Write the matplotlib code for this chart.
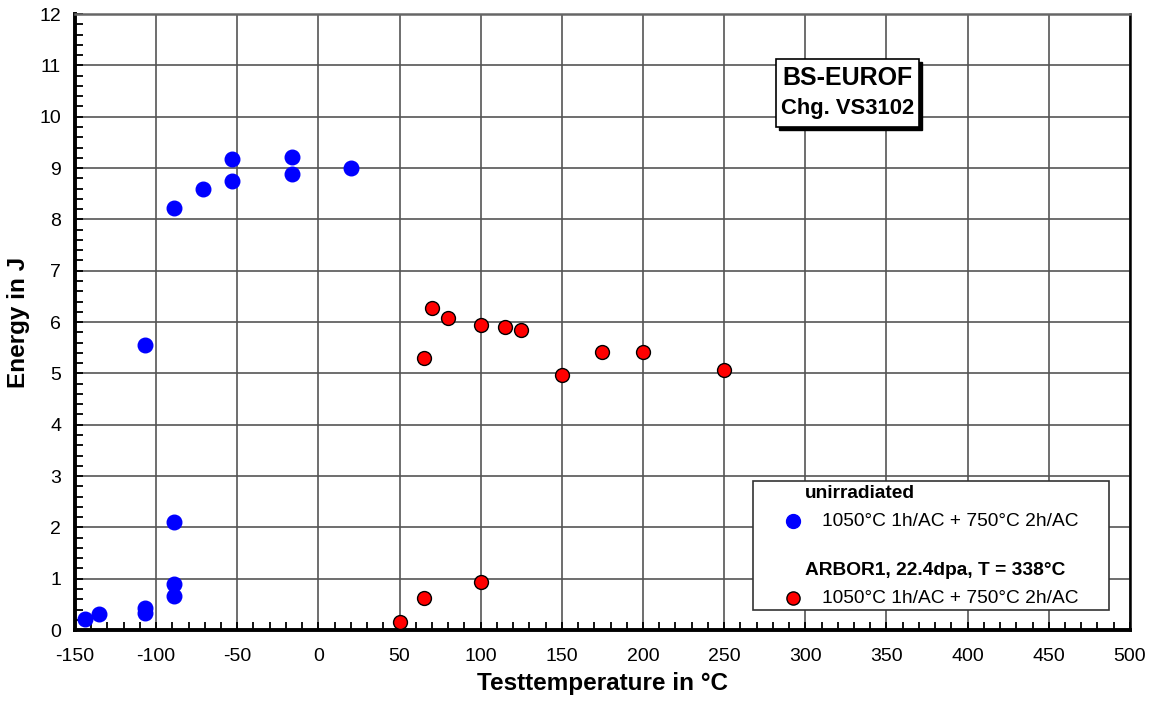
import numpy as np
import matplotlib.pyplot as plt
from matplotlib.patches import Rectangle
from matplotlib.ticker import MultipleLocator

plt.rcParams['font.family'] = ['Liberation Sans', 'DejaVu Sans']
plt.rcParams['axes.unicode_minus'] = False

# unirradiated material
temp_unirr = [-144, -135, -107, -107, -107, -89, -89, -89, -89, -71, -53, -53, -16, -16, 20]
energy_unirr = [0.21, 0.31, 0.43, 0.33, 5.55, 2.10, 0.90, 0.67, 8.22, 8.60, 9.17, 8.75, 9.22, 8.88, 9.00]

# ARBOR1 irradiated material
temp_irr = [50, 65, 100, 65, 70, 80, 100, 115, 125, 150, 175, 200, 250]
energy_irr = [0.15, 0.62, 0.94, 5.30, 6.27, 6.08, 5.95, 5.90, 5.85, 4.97, 5.42, 5.42, 5.07]

header_unirr = 'unirradiated'
header_irr = 'ARBOR1, 22.4dpa, T = 338°C'
treatment = '1050°C 1h/AC + 750°C 2h/AC'

fig = plt.figure(figsize=(11.53, 7.04), dpi=100)
ax = fig.add_axes([0.065, 0.105, 0.915, 0.875])

ax.scatter(temp_unirr, energy_unirr, s=110, color='#0000ff', zorder=3)
ax.scatter(temp_irr, energy_irr, s=100, color='#ff0000', edgecolors='black',
           linewidths=1.0, zorder=3)

ax.set_xlim(-150, 500)
ax.set_ylim(0, 12)
ax.xaxis.set_major_locator(MultipleLocator(50))
ax.xaxis.set_minor_locator(MultipleLocator(10))
ax.yaxis.set_major_locator(MultipleLocator(1))
ax.yaxis.set_minor_locator(MultipleLocator(0.2))
ax.grid(True, which='major', color='#555555', linewidth=1.2)
ax.set_axisbelow(True)

ax.tick_params(which='both', direction='in', length=6, width=1.3, labelsize=14)
ax.tick_params(axis='x', pad=13)
ax.tick_params(axis='y', pad=10)

for side in ['left', 'bottom']:
    ax.spines[side].set_linewidth(2.8)
ax.spines['right'].set_linewidth(1.8)
ax.spines['top'].set_linewidth(1.8)
ax.spines['top'].set_color('#666666')

ax.set_xlabel('Testtemperature in °C', fontsize=17.5, fontweight='bold', labelpad=5)
ax.set_ylabel('Energy in J', fontsize=17.5, fontweight='bold', labelpad=7)

# title box with drop shadow
ax.add_patch(Rectangle((0.6675, 0.8116), 0.1355, 0.110, transform=ax.transAxes,
                       facecolor='black', edgecolor='black', zorder=4))
ax.add_patch(Rectangle((0.6645, 0.8166), 0.1355, 0.110, transform=ax.transAxes,
                       facecolor='white', edgecolor='black', linewidth=1.2, zorder=5))
ax.text(0.732, 0.896, 'BS-EUROF', transform=ax.transAxes, ha='center', va='center',
        fontsize=18, fontweight='bold', zorder=6)
ax.text(0.732, 0.846, 'Chg. VS3102', transform=ax.transAxes, ha='center', va='center',
        fontsize=15.8, fontweight='bold', zorder=6)

# legend box
ax.add_patch(Rectangle((0.643, 0.032), 0.337, 0.210, transform=ax.transAxes,
                       facecolor='white', edgecolor='#333333', linewidth=1.2, zorder=5))
ax.text(0.692, 0.221, header_unirr, transform=ax.transAxes, va='center',
        fontsize=13.8, fontweight='bold', zorder=6)
ax.plot([0.681], [0.177], 'o', transform=ax.transAxes, markersize=10,
        color='#0000ff', clip_on=False, zorder=6)
ax.text(0.708, 0.177, treatment, transform=ax.transAxes, va='center', fontsize=13.8, zorder=6)
ax.text(0.692, 0.096, header_irr, transform=ax.transAxes, va='center',
        fontsize=13.8, fontweight='bold', zorder=6)
ax.plot([0.681], [0.052], 'o', transform=ax.transAxes, markersize=9.5,
        markerfacecolor='#ff0000', markeredgecolor='black', clip_on=False, zorder=6)
ax.text(0.708, 0.052, treatment, transform=ax.transAxes, va='center', fontsize=13.8, zorder=6)

fig.savefig('out.png', dpi=100)
